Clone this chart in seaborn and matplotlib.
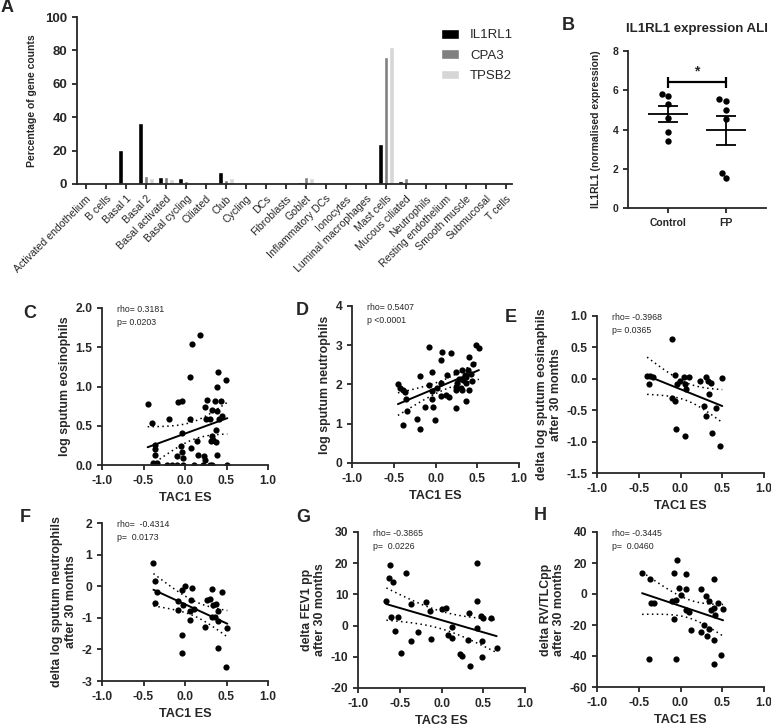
import numpy as np
import pandas as pd
import matplotlib
matplotlib.use("Agg")
import matplotlib.pyplot as plt
import seaborn as sns

# ---- panel A: percentage of gene counts per cell type
cell_types = ["Activated endothelium", "B cells", "Basal 1", "Basal 2", "Basal activated",
              "Basal cycling", "Ciliated", "Club", "Cycling", "DCs", "Fibroblasts", "Goblet",
              "Inflammatory DCs", "Ionocytes", "Luminal macrophages", "Mast cells",
              "Mucous ciliated", "Neutrophils", "Resting endothelium", "Smooth muscle",
              "Submucosal", "T cells"]
il1rl1_pct = [0, 0, 20.5, 36.5, 4.2, 3.5, 0, 7.3, 0, 0, 0, 1.3, 0, 0, 0, 23.7, 1.5, 0, 0, 0, 0, 0]
cpa3_pct = [0, 0, 0, 4.5, 4.2, 2.0, 1.3, 2.5, 0, 0, 0, 4.3, 0, 0, 0, 76.3, 3.5, 0, 0, 0, 0, 0]
tpsb2_pct = [0, 0, 0, 3.5, 2.8, 0.8, 0.3, 3.5, 0, 0, 0, 3.5, 0, 0, 0, 82.0, 0.5, 0, 0, 0, 0, 0]
genes = ["IL1RL1", "CPA3", "TPSB2"]

# ---- panel B: IL1RL1 expression ALI
b_groups = ["Control", "FP"]
b_control = [5.69, 5.83, 5.29, 4.59, 3.85, 3.42]
b_fp = [5.46, 5.53, 4.97, 4.51, 1.51, 1.76]

# ---- panel C
c_tac1 = [0.18, 0.08, 0.06, 0.40, 0.49, 0.39, -0.45, -0.09, -0.04, 0.26, 0.36, 0.43, 0.24,
          0.32, 0.39, 0.45, -0.40, -0.19, 0.06, 0.25, 0.30, 0.41, -0.04, 0.37, 0.32, 0.34,
          0.31, 0.37, -0.36, -0.36, 0.14, -0.05, -0.36, 0.07, -0.10, -0.04, 0.16, 0.23, 0.24,
          -0.02, -0.39, -0.34, -0.22, -0.16, -0.10, -0.02, 0.11, 0.22, 0.30, 0.33, 0.51, 0.39]
c_eos = [1.65, 1.54, 1.12, 1.18, 1.08, 1.00, 0.78, 0.80, 0.82, 0.83, 0.82, 0.81, 0.74,
         0.70, 0.69, 0.63, 0.54, 0.59, 0.58, 0.58, 0.59, 0.59, 0.41, 0.45, 0.37, 0.32,
         0.31, 0.29, 0.26, 0.21, 0.31, 0.24, 0.13, 0.22, 0.11, 0.16, 0.13, 0.12, 0.06,
         0.09, 0.02, 0.02, 0.0, 0.0, 0.0, 0.0, 0.0, 0.0, 0.0, 0.0, 0.0, 0.13]

# ---- panel D
d_tac1 = [-0.08, 0.49, 0.52, 0.08, 0.19, 0.06, 0.40, 0.45, -0.18, -0.04, 0.14, 0.25, 0.32,
          0.39, 0.35, 0.42, 0.07, 0.28, 0.33, 0.37, 0.44, -0.45, -0.42, -0.39, -0.36, -0.08,
          -0.04, 0.02, 0.24, 0.30, 0.24, 0.32, 0.40, 0.06, 0.12, 0.16, -0.04, -0.35, 0.37,
          -0.13, -0.03, -0.34, 0.24, -0.39, -0.22, -0.01, -0.19, 0.37, 0.26]
d_neu = [2.96, 3.00, 2.94, 2.83, 2.79, 2.62, 2.69, 2.52, 2.21, 2.32, 2.24, 2.32, 2.38,
         2.36, 2.24, 2.26, 2.04, 2.15, 2.11, 2.18, 2.09, 2.01, 1.90, 1.86, 1.81, 1.98,
         1.84, 1.90, 1.94, 1.90, 1.87, 1.86, 1.87, 1.70, 1.73, 1.67, 1.64, 1.62, 1.58,
         1.43, 1.43, 1.33, 1.39, 0.98, 1.11, 1.09, 0.86, 2.03, 2.03]

# ---- panel E
e_tac1 = [-0.10, -0.40, -0.36, -0.33, -0.38, -0.06, -0.04, -0.01, 0.04, 0.10, 0.05, 0.06,
          0.23, 0.30, 0.33, 0.36, 0.50, 0.34, -0.10, -0.06, 0.28, 0.31, 0.43, -0.05, 0.05,
          0.38, 0.47]
e_deos = [0.64, 0.04, 0.04, 0.03, -0.08, 0.06, -0.08, -0.03, 0.03, 0.03, -0.09, -0.16,
          -0.04, 0.03, -0.04, -0.06, 0.01, -0.24, -0.30, -0.36, -0.44, -0.60, -0.47, -0.80,
          -0.91, -0.87, -1.07]

# ---- panel F
f_tac1 = [-0.38, -0.36, -0.34, -0.36, -0.04, 0.00, 0.08, -0.08, -0.03, -0.08, 0.07, 0.11,
          0.06, 0.06, -0.04, -0.04, 0.24, 0.26, 0.30, 0.32, 0.34, 0.36, 0.32, 0.37, 0.40,
          0.40, 0.44, 0.40, 0.51, 0.49]
f_dneu = [0.72, 0.17, -0.18, -0.53, -0.13, 0.01, -0.07, -0.47, -0.61, -0.74, -0.43, -0.71,
          -0.79, -1.06, -1.54, -2.12, -1.28, -0.45, -0.41, -0.10, -0.61, -0.96, -0.98, -0.55,
          -0.77, -1.11, -0.18, -1.94, -1.33, -2.57]

# ---- panel G
g_tac3 = [-0.66, -0.63, -0.62, -0.58, -0.61, -0.56, -0.52, -0.43, -0.48, -0.36, -0.37, -0.28,
          -0.18, -0.14, -0.12, 0.01, 0.05, 0.08, 0.12, 0.12, 0.22, 0.24, 0.32, 0.33, 0.34,
          0.42, 0.43, 0.42, 0.47, 0.50, 0.59, 0.49, 0.49, 0.66]
g_dfev1 = [8.0, 15.4, 19.5, 14.0, 2.9, -1.6, 2.7, 16.7, -8.7, 6.9, -4.8, -2.1, 7.7, 4.6,
           -4.3, 5.4, 5.6, -3.1, -4.0, -0.3, -9.0, -9.6, -4.5, 3.9, -12.8, -0.7, 8.0, 20.2,
           3.0, 2.3, 2.3, -4.8, -10.1, -7.1]

# ---- panel H
h_tac1 = [-0.46, -0.36, -0.35, -0.32, -0.38, -0.04, -0.08, 0.06, -0.10, -0.05, -0.02, 0.00,
          0.07, -0.08, 0.06, 0.10, 0.12, -0.05, 0.24, 0.31, 0.34, 0.24, 0.28, 0.32, 0.34,
          0.40, 0.37, 0.40, 0.41, 0.45, 0.40, 0.40, 0.51, 0.48]
h_drvtlc = [13.6, 10.0, -6.0, -6.0, -42.1, 22.1, 13.6, 12.8, -4.3, -3.8, 3.6, -0.6, 3.2,
            -16.2, -10.2, -11.3, -23.4, -41.7, 3.0, -1.3, -4.3, -24.7, -19.8, -27.2, -22.3,
            10.0, -10.2, -9.1, -13.4, -6.0, -29.4, -45.3, -9.8, -39.6]

W, H = 771, 726


def rect(left, top, right, bottom):
    return [left / W, 1 - bottom / H, (right - left) / W, (bottom - top) / H]


def t_crit(df):
    try:
        from scipy import stats
        return stats.t.ppf(0.975, df)
    except ImportError:
        return 2.0 + 2.2 / df


def corr_panel(ax, x, y, xlabel, ylabel, yticks, yfmt, note):
    x = np.asarray(x)
    y = np.asarray(y)
    sns.regplot(x=x, y=y, ax=ax, ci=None, truncate=True, color="black",
                scatter_kws={"s": 20, "linewidths": 0, "alpha": 1},
                line_kws={"lw": 1.4})
    # dotted 95% confidence band of the fit
    slope, icpt = np.polyfit(x, y, 1)
    n = len(x)
    resid = y - (icpt + slope * x)
    s = np.sqrt(np.sum(resid ** 2) / (n - 2))
    xs = np.linspace(x.min(), x.max(), 60)
    se = s * np.sqrt(1 / n + (xs - x.mean()) ** 2 / np.sum((x - x.mean()) ** 2))
    t = t_crit(n - 2)
    for sign in (-1, 1):
        ax.plot(xs, icpt + slope * xs + sign * t * se, ls=(0, (1, 2.2)), color="black", lw=1.1)
    ax.set_xlim(-1, 1)
    ax.set_xticks([-1, -0.5, 0, 0.5, 1])
    ax.set_xticklabels([f"{v:.1f}" for v in [-1, -0.5, 0, 0.5, 1]],
                       fontsize=8.7, fontweight="bold")
    ax.set_ylim(yticks[0], yticks[-1])
    ax.set_yticks(yticks)
    ax.set_yticklabels([yfmt.format(v) for v in yticks], fontsize=8.7, fontweight="bold")
    ax.set_xlabel(xlabel, fontsize=9.2, fontweight="bold", labelpad=4)
    ax.set_ylabel(ylabel, fontsize=8.9, fontweight="bold", labelpad=3)
    ax.text(0.09, 1.02, note, transform=ax.transAxes, fontsize=6.3, va="top",
            ha="left", linespacing=1.6, fontweight="normal")
    sns.despine(ax=ax)


def main():
    sns.set_style("ticks")
    plt.rcParams["font.family"] = ["Liberation Sans", "DejaVu Sans"]
    plt.rcParams["font.weight"] = "bold"
    plt.rcParams["axes.labelweight"] = "bold"
    plt.rcParams["axes.linewidth"] = 1.3
    plt.rcParams["xtick.major.width"] = 1.3
    plt.rcParams["ytick.major.width"] = 1.3
    plt.rcParams["xtick.major.size"] = 3.5
    plt.rcParams["ytick.major.size"] = 3.5

    fig = plt.figure(figsize=(W / 100, H / 100), dpi=100)

    # ---------------- A
    axA = fig.add_axes(rect(77, 17, 512, 184))
    df_a = pd.DataFrame({
        "cell": cell_types * 3,
        "gene": [g for g in genes for _ in cell_types],
        "pct": il1rl1_pct + cpa3_pct + tpsb2_pct,
    })
    sns.barplot(data=df_a, x="cell", y="pct", hue="gene", hue_order=genes,
                palette=["#000000", "#808080", "#d6d6d6"], width=0.83, gap=0.22,
                errorbar=None, ax=axA)
    axA.set_xlim(-0.45, 21.3)
    axA.set_ylim(0, 100)
    axA.set_yticks([0, 20, 40, 60, 80, 100])
    axA.set_yticklabels(["0", "20", "40", "60", "80", "100"], fontsize=9.5, fontweight="bold")
    axA.set_xlabel("")
    axA.set_ylabel("Percentage of gene counts", fontsize=7.5, fontweight="bold", labelpad=6)
    axA.set_xticks(range(len(cell_types)))
    axA.set_xticklabels(cell_types, rotation=45, ha="right", rotation_mode="anchor",
                        fontsize=7.6, fontweight="normal")
    handles, labels = axA.get_legend_handles_labels()
    axA.legend(handles, labels, loc="upper left", bbox_to_anchor=(441 / W, 1 - 29 / H),
               bbox_transform=fig.transFigure, frameon=False,
               prop={"size": 9.5, "weight": "normal"},
               handlelength=1.4, handleheight=0.75, labelspacing=0.6,
               borderaxespad=0, borderpad=0, handletextpad=0.8)
    sns.despine(ax=axA)

    # ---------------- B
    axB = fig.add_axes(rect(628, 51, 766, 208))
    df_b = pd.DataFrame({
        "group": [b_groups[0]] * len(b_control) + [b_groups[1]] * len(b_fp),
        "value": b_control + b_fp,
    })
    sns.swarmplot(data=df_b, x="group", y="value", order=b_groups, color="black",
                  size=4.6, ax=axB)
    for i, vals in enumerate([b_control, b_fp]):
        v = np.asarray(vals)
        m = v.mean()
        se = v.std(ddof=1) / np.sqrt(len(v))
        axB.hlines(m, i - 0.34, i + 0.34, color="black", lw=1.3, zorder=3)
        axB.vlines(i, m - se, m + se, color="black", lw=1.3, zorder=3)
        axB.hlines([m - se, m + se], i - 0.17, i + 0.17, color="black", lw=1.3, zorder=3)
    axB.plot([0, 1], [6.4, 6.4], color="black", lw=1.6)
    axB.vlines([0, 1], 6.1, 6.7, color="black", lw=1.6)
    axB.text(0.5, 6.6, "*", ha="center", va="bottom", fontsize=10, fontweight="bold")
    axB.set_xlim(-0.69, 1.69)
    axB.set_ylim(0, 8)
    axB.set_yticks([0, 2, 4, 6, 8])
    axB.set_yticklabels(["0", "2", "4", "6", "8"], fontsize=7.5, fontweight="bold")
    axB.set_xticks([0, 1])
    axB.set_xticklabels(b_groups, fontsize=7.5, fontweight="bold")
    axB.set_xlabel("")
    axB.set_ylabel("IL1RL1 (normalised expression)", fontsize=7.5, fontweight="bold", labelpad=8)
    axB.set_title("IL1RL1 expression ALI", fontsize=9.5, fontweight="bold", pad=14)
    sns.despine(ax=axB)

    # ---------------- C - H
    axC = fig.add_axes(rect(102, 308, 268, 465))
    corr_panel(axC, c_tac1, c_eos, "TAC1 ES", "log sputum eosinophils",
               [0, 0.5, 1.0, 1.5, 2.0], "{:.1f}", "rho= 0.3181\np= 0.0203")
    axD = fig.add_axes(rect(352, 306, 519, 463))
    corr_panel(axD, d_tac1, d_neu, "TAC1 ES", "log sputum neutrophils",
               [0, 1, 2, 3, 4], "{:d}", "rho= 0.5407\np <0.0001")
    axE = fig.add_axes(rect(597, 316, 764, 473))
    corr_panel(axE, e_tac1, e_deos, "TAC1 ES", "delta log sputum eosinaphils\nafter 30 months",
               [-1.5, -1.0, -0.5, 0.0, 0.5, 1.0], "{:.1f}", "rho= -0.3968\np= 0.0365")
    axF = fig.add_axes(rect(102, 523, 268, 681))
    corr_panel(axF, f_tac1, f_dneu, "TAC1 ES", "delta log sputum neutrophils\nafter 30 months",
               [-3, -2, -1, 0, 1, 2], "{:d}", "rho=  -0.4314\np=  0.0173")
    axG = fig.add_axes(rect(358, 532, 525, 688))
    corr_panel(axG, g_tac3, g_dfev1, "TAC3 ES", "delta FEV1 pp\nafter 30 months",
               [-20, -10, 0, 10, 20, 30], "{:d}", "rho= -0.3865\np=  0.0226")
    axH = fig.add_axes(rect(597, 532, 764, 687))
    corr_panel(axH, h_tac1, h_drvtlc, "TAC1 ES", "delta RV/TLCpp\nafter 30 months",
               [-60, -40, -20, 0, 20, 40], "{:d}", "rho= -0.3445\np=  0.0460")

    # panel letters
    for letter, (px, py) in {"A": (7, 7), "B": (568, 25), "C": (30, 313), "D": (302, 311),
                             "E": (511, 318), "F": (25, 517), "G": (303, 518),
                             "H": (540, 516)}.items():
        fig.text(px / W, 1 - py / H, letter, fontsize=13, fontweight="bold",
                 ha="center", va="center")

    fig.savefig("out.png", dpi=100)
    plt.close(fig)


if __name__ == "__main__":
    main()
